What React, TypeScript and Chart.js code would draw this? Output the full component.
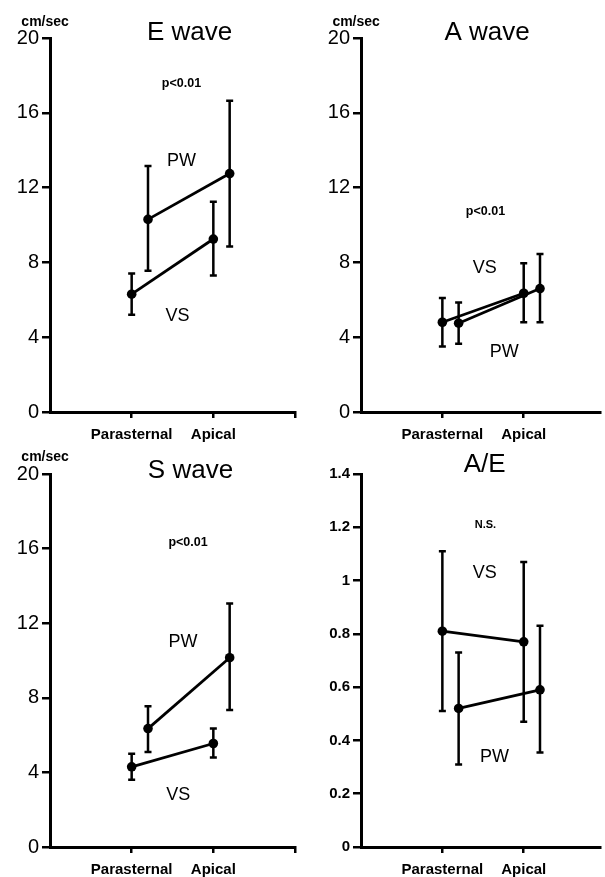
import React, { useEffect, useRef } from "react";
import { Chart, registerables } from "chart.js";

Chart.register(...registerables);

const FONT = '"Liberation Sans", Arial, Helvetica, sans-serif';

// ---- categories / positions ----
const categories = ["Parasternal", "Apical"];
const categoryX = [1, 2];
const xTickValues = [1, 2, 3];
const pwShift = 0.2;

// ---- tick labels ----
const velocityTicks = [0, 4, 8, 12, 16, 20];
const velocityTickLabels = ["0", "4", "8", "12", "16", "20"];
const ratioTicks = [0, 0.2, 0.4, 0.6, 0.8, 1, 1.2, 1.4];
const ratioTickLabels = ["0", "0.2", "0.4", "0.6", "0.8", "1", "1.2", "1.4"];

// ---- E wave (cm/sec) ----
const eVsMean = [6.3, 9.25];
const eVsHigh = [7.4, 11.25];
const eVsLow = [5.2, 7.3];
const ePwMean = [10.3, 12.75];
const ePwHigh = [13.15, 16.65];
const ePwLow = [7.55, 8.85];

// ---- A wave (cm/sec) ----
const aVsMean = [4.8, 6.35];
const aVsHigh = [6.1, 7.95];
const aVsLow = [3.5, 4.8];
const aPwMean = [4.75, 6.6];
const aPwHigh = [5.85, 8.45];
const aPwLow = [3.65, 4.8];

// ---- S wave (cm/sec) ----
const sVsMean = [4.3, 5.55];
const sVsHigh = [5.0, 6.35];
const sVsLow = [3.6, 4.8];
const sPwMean = [6.35, 10.15];
const sPwHigh = [7.55, 13.05];
const sPwLow = [5.1, 7.35];

// ---- A/E ratio ----
const aeVsMean = [0.81, 0.77];
const aeVsHigh = [1.11, 1.07];
const aeVsLow = [0.51, 0.47];
const aePwMean = [0.52, 0.59];
const aePwHigh = [0.73, 0.83];
const aePwLow = [0.31, 0.355];

type Note = { text: string; x: number; y: number; font: string };

type PanelSpec = {
  left: number;
  top: number;
  width: number;
  height: number;
  axisW: number;
  axisH: number;
  padTop: number;
  padRight: number;
  xMax: number;
  yMax: number;
  yTicks: number[];
  yLabels: string[];
  yFont: any;
  vs: { mean: number[]; hi: number[]; lo: number[] };
  pw: { mean: number[]; hi: number[]; lo: number[] };
  notes: Note[];
};

const bigTick = { family: FONT, size: 20, weight: "normal" };
const smallTick = { family: FONT, size: 15, weight: "bold" };

const panels: PanelSpec[] = [
  {
    left: 0, top: 0, width: 303, height: 450,
    axisW: 50, axisH: 38, padTop: 38, padRight: 5, xMax: 3,
    yMax: 20, yTicks: velocityTicks, yLabels: velocityTickLabels, yFont: bigTick,
    vs: { mean: eVsMean, hi: eVsHigh, lo: eVsLow },
    pw: { mean: ePwMean, hi: ePwHigh, lo: ePwLow },
    notes: [
      { text: "E wave", x: 1.71, y: 20.27, font: "26px" },
      { text: "cm/sec", x: -0.06, y: 20.86, font: "bold 14px" },
      { text: "p<0.01", x: 1.61, y: 17.54, font: "bold 12.5px" },
      { text: "PW", x: 1.61, y: 13.42, font: "18px" },
      { text: "VS", x: 1.56, y: 5.13, font: "18px" },
    ],
  },
  {
    left: 303, top: 0, width: 302, height: 450,
    axisW: 58, axisH: 38, padTop: 38, padRight: 0, xMax: 2.94,
    yMax: 20, yTicks: velocityTicks, yLabels: velocityTickLabels, yFont: bigTick,
    vs: { mean: aVsMean, hi: aVsHigh, lo: aVsLow },
    pw: { mean: aPwMean, hi: aPwHigh, lo: aPwLow },
    notes: [
      { text: "A wave", x: 1.55, y: 20.27, font: "26px" },
      { text: "cm/sec", x: -0.06, y: 20.86, font: "bold 14px" },
      { text: "p<0.01", x: 1.53, y: 10.7, font: "bold 12.5px" },
      { text: "VS", x: 1.52, y: 7.7, font: "18px" },
      { text: "PW", x: 1.76, y: 3.21, font: "18px" },
    ],
  },
  {
    left: 0, top: 440, width: 303, height: 437,
    axisW: 50, axisH: 30, padTop: 34, padRight: 8, xMax: 3,
    yMax: 20, yTicks: velocityTicks, yLabels: velocityTickLabels, yFont: bigTick,
    vs: { mean: sVsMean, hi: sVsHigh, lo: sVsLow },
    pw: { mean: sPwMean, hi: sPwHigh, lo: sPwLow },
    notes: [
      { text: "S wave", x: 1.72, y: 20.16, font: "26px" },
      { text: "cm/sec", x: -0.06, y: 20.88, font: "bold 14px" },
      { text: "p<0.01", x: 1.69, y: 16.33, font: "bold 12.5px" },
      { text: "PW", x: 1.63, y: 11.0, font: "18px" },
      { text: "VS", x: 1.57, y: 2.78, font: "18px" },
    ],
  },
  {
    left: 303, top: 440, width: 302, height: 437,
    axisW: 58, axisH: 30, padTop: 34, padRight: 0, xMax: 2.94,
    yMax: 1.4, yTicks: ratioTicks, yLabels: ratioTickLabels, yFont: smallTick,
    vs: { mean: aeVsMean, hi: aeVsHigh, lo: aeVsLow },
    pw: { mean: aePwMean, hi: aePwHigh, lo: aePwLow },
    notes: [
      { text: "A/E", x: 1.52, y: 1.435, font: "26px" },
      { text: "N.S.", x: 1.53, y: 1.21, font: "bold 11px" },
      { text: "VS", x: 1.52, y: 1.029, font: "18px" },
      { text: "PW", x: 1.64, y: 0.337, font: "18px" },
    ],
  },
];

const errorBarPlugin = {
  id: "errorBars",
  beforeDatasetsDraw(chart: any) {
    const { ctx } = chart;
    const x = chart.scales.x;
    const y = chart.scales.y;
    ctx.save();
    ctx.strokeStyle = "#000";
    ctx.lineWidth = 2.5;
    ctx.lineCap = "butt";
    chart.data.datasets.forEach((ds: any) => {
      ds.data.forEach((p: any, i: number) => {
        const px = x.getPixelForValue(p.x);
        const top = y.getPixelForValue(ds.errHigh[i]);
        const bot = y.getPixelForValue(ds.errLow[i]);
        ctx.beginPath();
        ctx.moveTo(px, top);
        ctx.lineTo(px, bot);
        ctx.moveTo(px - 3.5, top);
        ctx.lineTo(px + 3.5, top);
        ctx.moveTo(px - 3.5, bot);
        ctx.lineTo(px + 3.5, bot);
        ctx.stroke();
      });
    });
    ctx.restore();
  },
};

function makeNotesPlugin(notes: Note[]) {
  return {
    id: "notes",
    afterDatasetsDraw(chart: any) {
      const { ctx } = chart;
      const x = chart.scales.x;
      const y = chart.scales.y;
      ctx.save();
      ctx.fillStyle = "#000";
      ctx.textAlign = "center";
      ctx.textBaseline = "middle";
      notes.forEach((n) => {
        ctx.font = `${n.font} ${FONT}`;
        ctx.fillText(n.text, x.getPixelForValue(n.x), y.getPixelForValue(n.y));
      });
      ctx.restore();
    },
  };
}

function Panel({ spec }: { spec: PanelSpec }) {
  const ref = useRef<HTMLCanvasElement | null>(null);
  useEffect(() => {
    if (!ref.current) return;
    const p = spec;
    const mk = (label: string, xs: number[], s: { mean: number[]; hi: number[]; lo: number[] }) => ({
      label,
      data: xs.map((xv, i) => ({ x: xv, y: s.mean[i] })),
      errHigh: s.hi,
      errLow: s.lo,
      showLine: true,
      borderColor: "#000",
      borderWidth: 2.8,
      pointRadius: 4.8,
      pointBorderWidth: 0,
      pointBackgroundColor: "#000",
      clip: false,
    });
    const chart = new Chart(ref.current, {
      type: "scatter",
      data: {
        datasets: [
          mk("VS", categoryX, p.vs),
          mk("PW", categoryX.map((c) => c + pwShift), p.pw),
        ] as any,
      },
      options: {
        animation: false,
        responsive: false,
        devicePixelRatio: 1,
        events: [],
        layout: { padding: { top: p.padTop, right: p.padRight, left: 0, bottom: 0 } },
        plugins: { legend: { display: false }, tooltip: { enabled: false }, title: { display: false } },
        scales: {
          x: {
            type: "linear",
            min: 0,
            max: p.xMax,
            afterBuildTicks: (s: any) => {
              s.ticks = xTickValues.filter((v) => v <= p.xMax).map((v) => ({ value: v }));
            },
            ticks: {
              autoSkip: false,
              maxRotation: 0,
              minRotation: 0,
              color: "#000",
              padding: 8,
              font: { family: FONT, size: 15, weight: "bold" },
              callback: (v: any) => {
                const i = categoryX.indexOf(Number(v));
                return i >= 0 ? categories[i] : "";
              },
            },
            grid: { drawOnChartArea: false, drawTicks: true, tickLength: 6, color: "#000", lineWidth: 2.5 },
            border: { display: true, color: "#000", width: 3 },
            afterFit: (s: any) => {
              s.height = p.axisH;
            },
          },
          y: {
            type: "linear",
            min: 0,
            max: p.yMax,
            afterBuildTicks: (s: any) => {
              s.ticks = p.yTicks.map((v) => ({ value: v }));
            },
            ticks: {
              color: "#000",
              padding: 3,
              font: p.yFont,
              callback: (v: any) => {
                const i = p.yTicks.indexOf(Number(v));
                return i >= 0 ? p.yLabels[i] : "";
              },
            },
            grid: { drawOnChartArea: false, drawTicks: true, tickLength: 8, color: "#000", lineWidth: 2.5 },
            border: { display: true, color: "#000", width: 3 },
            afterFit: (s: any) => {
              s.width = p.axisW;
            },
          },
        },
      } as any,
      plugins: [errorBarPlugin, makeNotesPlugin(p.notes)],
    });
    return () => chart.destroy();
  }, [spec]);
  return (
    <canvas
      ref={ref}
      width={spec.width}
      height={spec.height}
      style={{
        position: "absolute",
        left: spec.left,
        top: spec.top,
        width: spec.width,
        height: spec.height,
        display: "block",
      }}
    />
  );
}

export default function App() {
  return (
    <div
      style={{
        position: "absolute",
        left: 0,
        top: 0,
        width: 605,
        height: 877,
        overflow: "hidden",
        background: "#fff",
      }}
    >
      {panels.map((p, i) => (
        <Panel key={i} spec={p} />
      ))}
    </div>
  );
}
